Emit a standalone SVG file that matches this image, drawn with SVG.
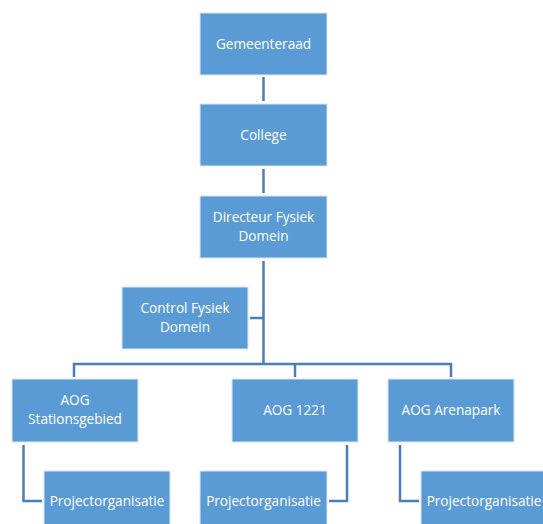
<svg xmlns="http://www.w3.org/2000/svg" width="543" height="524" viewBox="0 0 543 524">
<style>
.box{fill:#5B9BD5;stroke:#DCE6F2;stroke-width:1}
.t{font-family:"Open Sans","Noto Sans",sans-serif;font-size:13.6px;fill:#FFFFFF;text-anchor:middle}
.c{fill:none;stroke:#4A7EBB;stroke-width:2.5}
</style>
<rect width="543" height="524" fill="#FFFFFF"/>
<g id="connectors">
<path class="c" d="M263.5,77 V101"/>
<path class="c" d="M263.5,169 V193"/>
<path class="c" d="M263.5,261 V364"/>
<path class="c" d="M250,318 H263.5"/>
<path class="c" d="M74,377 V364 H451 V377"/>
<path class="c" d="M295,364 V377"/>
<path class="c" d="M23.5,445 V501 H42"/>
<path class="c" d="M347,445 V501 H329"/>
<path class="c" d="M400,445 V501 H419"/>
</g>
<g id="gemeenteraad"><rect class="box" x="200" y="13" width="127" height="62"/><text class="t" x="263.5" y="49">Gemeenteraad</text></g>
<g id="college"><rect class="box" x="200" y="104" width="127" height="62"/><text class="t" x="263.5" y="140">College</text></g>
<g id="directeur"><rect class="box" x="200" y="196" width="127" height="62"/><text class="t" x="263.5" y="222">Directeur Fysiek</text><text class="t" x="263.5" y="241">Domein</text></g>
<g id="control"><rect class="box" x="122" y="287" width="126" height="62"/><text class="t" x="185" y="313">Control Fysiek</text><text class="t" x="185" y="332">Domein</text></g>
<g id="aog-stationsgebied"><rect class="box" x="12" y="379" width="126" height="63"/><text class="t" x="75" y="405">AOG</text><text class="t" x="75" y="424">Stationsgebied</text></g>
<g id="aog-1221"><rect class="box" x="232" y="379" width="126" height="63"/><text class="t" x="295" y="415">AOG 1221</text></g>
<g id="aog-arenapark"><rect class="box" x="388" y="379" width="126" height="63"/><text class="t" x="451" y="415">AOG Arenapark</text></g>
<g id="projectorganisatie-1"><rect class="box" x="44" y="471" width="126" height="62"/><text class="t" x="107" y="506">Projectorganisatie</text></g>
<g id="projectorganisatie-2"><rect class="box" x="200" y="471" width="127" height="62"/><text class="t" x="263.5" y="506">Projectorganisatie</text></g>
<g id="projectorganisatie-3"><rect class="box" x="421" y="471" width="126" height="62"/><text class="t" x="484" y="506">Projectorganisatie</text></g>
</svg>
